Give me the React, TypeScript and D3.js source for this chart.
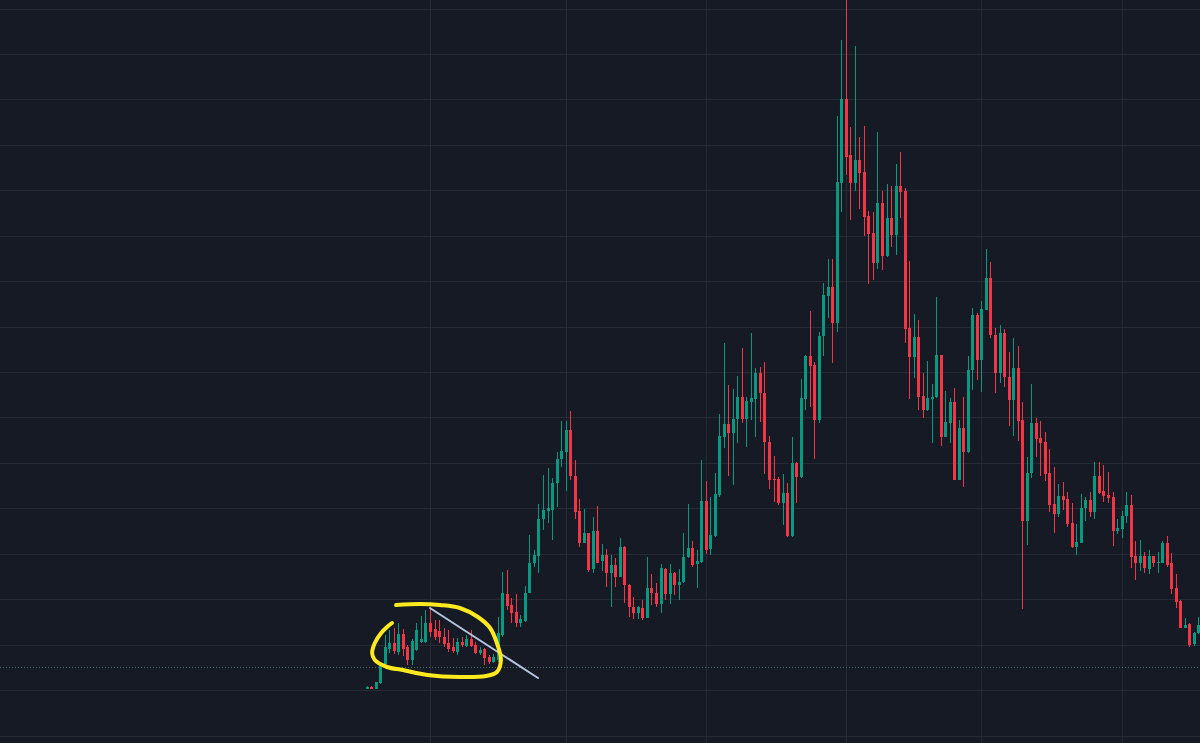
import React from 'react';
import * as d3 from 'd3';

const W = 1200;
const H = 743;

// Daily candles starting at this date (one per day)
const startDate = new Date(Date.UTC(2023, 4, 18));

const opens = [54,56,54,60,79,94,100,91,109,96,83,93,101,101,120,114,112,106,100,96,91,101,97,104,98,90,94,86,81,83,108,149,138,131,120,122,150,180,187,224,232,233,260,284,291,313,267,232,200,210,174,212,182,188,170,178,166,196,158,136,130,135,125,155,150,139,174,149,170,158,161,186,195,179,181,242,194,207,248,306,319,310,324,346,324,341,344,370,350,301,264,264,240,250,207,280,266,344,387,378,323,407,447,456,420,560,644,588,560,583,571,527,510,480,540,487,525,508,557,552,415,386,406,347,333,344,346,388,306,320,341,263,315,291,373,428,383,433,465,408,370,410,366,343,375,323,222,270,320,305,301,270,239,229,247,244,220,196,200,235,243,231,267,252,248,246,212,214,227,238,187,180,187,174,187,180,180,200,180,155,142,115,119,99,110];
const highs = [57,57,61,79,108,113,115,120,114,98,104,120,127,133,135,123,123,115,113,105,105,106,108,113,101,96,95,88,89,126,171,173,145,149,128,157,208,193,239,268,275,265,291,322,322,332,283,244,234,210,226,237,199,194,188,185,205,197,159,146,137,143,186,169,160,179,175,179,171,174,210,239,202,193,283,262,246,270,329,400,358,354,367,395,346,410,375,376,381,307,287,266,269,260,306,281,364,388,432,381,411,460,484,484,627,703,760,616,697,606,617,532,531,611,552,559,557,579,591,555,482,429,423,370,382,359,446,388,352,345,355,323,346,387,435,430,442,494,481,415,418,414,391,405,397,341,286,359,325,322,311,294,276,259,261,251,240,219,249,246,251,281,281,278,271,251,224,232,251,248,202,203,191,193,187,191,202,207,190,169,143,125,120,111,126];
const lows = [54,54,54,59,78,90,89,88,87,78,78,92,100,100,106,103,100,96,91,90,88,96,96,96,89,88,78,79,80,81,106,133,120,116,116,121,150,176,170,213,220,203,236,276,252,263,224,196,200,171,170,180,172,156,136,156,166,140,126,124,124,123,125,138,136,130,143,139,148,143,160,185,176,155,180,189,188,206,246,295,267,258,300,320,296,323,306,321,269,254,241,238,218,206,206,240,265,333,336,284,320,387,425,380,411,531,568,523,552,534,507,459,463,474,473,486,496,488,525,400,344,365,333,325,332,300,345,297,306,300,263,263,256,290,353,363,351,433,405,350,360,356,317,307,302,134,198,265,286,267,262,231,210,226,233,216,195,188,200,222,226,224,249,241,240,197,209,205,220,175,163,172,170,169,176,170,180,176,149,135,115,115,96,97,109];
const closes = [56,54,61,77,96,100,92,109,94,83,102,113,104,120,111,106,106,99,94,92,101,98,104,97,90,93,85,81,86,110,150,137,130,120,124,150,180,188,224,233,235,260,284,292,313,267,231,200,210,173,212,180,188,170,178,166,196,158,136,130,136,125,155,150,139,175,149,170,158,161,186,195,178,182,242,193,208,249,307,319,310,324,346,324,342,345,370,350,301,263,263,240,250,207,280,266,345,387,377,323,407,448,456,420,561,644,586,560,583,570,526,509,480,540,487,525,508,557,551,414,386,406,346,333,345,346,388,306,321,341,263,315,291,373,428,383,434,465,408,370,410,366,343,375,322,222,270,320,304,300,269,238,229,247,243,219,196,201,235,243,231,267,250,247,245,212,215,227,238,186,180,187,175,187,180,181,200,178,154,141,115,118,98,110,118];

// Horizontal grid price levels
const gridPrices = [7.5,53,98.4,143.9,189.3,234.7,280.2,325.6,371,416.5,461.9,507.3,552.8,598.2,643.6,689.1,734.5];

// Dotted horizontal line level
const dottedPrice = 76;

// Trend line drawing: [day offset, price]
const trendPoints: [number, number][] = [[14, 135], [37.9, 65]];

// Hand-drawn yellow circle: [day offset, price]
const circlePoints: [number, number][] = [
  [6.5,138],[11.8,139],[16.2,138],[20.6,135],[24.6,126],[27.3,115],[28.8,100],[29.7,83],[28.8,71],[26.4,67],[20.6,66],[13.5,68],[8.0,73],[4.5,76],[1.8,83],[1.2,90],[1.8,100],[3.2,110],[4.5,116],[5.6,120]
];

const UP = '#089981';
const DOWN = '#F23645';
const BG = '#161A25';
const GRID = '#262A35';

export default function App() {
  const endDate = d3.utcDay.offset(startDate, opens.length - 1);
  const x = d3.scaleUtc().domain([startDate, endDate]).range([366.7, 1198.4]);
  const y = d3.scaleLinear().domain([0, 743]).range([743, 0]);
  const dayToDate = (d: number) => new Date(startDate.getTime() + d * 86400000);

  const monthLines = d3.utcMonth.range(d3.utcMonth.ceil(startDate), d3.utcDay.offset(endDate, 1));

  const trendLine = d3.line<[number, number]>()
    .x((p) => x(dayToDate(p[0])))
    .y((p) => y(p[1]));
  const circleLine = d3.line<[number, number]>()
    .x((p) => x(dayToDate(p[0])))
    .y((p) => y(p[1]))
    .curve(d3.curveCatmullRom.alpha(0.5));

  return (
    <svg width={W} height={H} style={{ position: 'absolute', left: 0, top: 0, display: 'block' }}>
      <rect x={0} y={0} width={W} height={H} fill={BG} />
      <g>
        {gridPrices.map((p, i) => (
          <line key={'h' + i} x1={0} x2={W} y1={Math.round(y(p)) + 0.5} y2={Math.round(y(p)) + 0.5} stroke={GRID} strokeWidth={1} />
        ))}
        {monthLines.map((d, i) => (
          <line key={'v' + i} x1={Math.round(x(d)) + 0.5} x2={Math.round(x(d)) + 0.5} y1={0} y2={H} stroke={GRID} strokeWidth={1} />
        ))}
      </g>
      <line x1={0} x2={W} y1={Math.round(y(dottedPrice)) + 0.5} y2={Math.round(y(dottedPrice)) + 0.5}
        stroke="#3E6F72" strokeWidth={1} strokeDasharray="1 2" />
      <g>
        {opens.map((o, i) => {
          const c = closes[i];
          const up = c >= o;
          const col = up ? UP : DOWN;
          const cx = Math.round(x(d3.utcDay.offset(startDate, i)));
          const top = y(Math.max(o, c));
          const bot = y(Math.min(o, c));
          const h = Math.max(1, bot - top);
          return (
            <g key={i}>
              <line x1={cx + 0.5} x2={cx + 0.5} y1={y(highs[i])} y2={y(lows[i])} stroke={col} strokeWidth={1} />
              <rect x={cx - 1} y={top} width={3} height={h} fill={col} />
            </g>
          );
        })}
      </g>
      <path d={trendLine(trendPoints) || ''} stroke="#B4C3DE" strokeWidth={2} fill="none" strokeLinecap="round" />
      <path d={circleLine(circlePoints) || ''} stroke="#FFE91F" strokeWidth={4} fill="none" strokeLinecap="round" strokeLinejoin="round" />
    </svg>
  );
}
